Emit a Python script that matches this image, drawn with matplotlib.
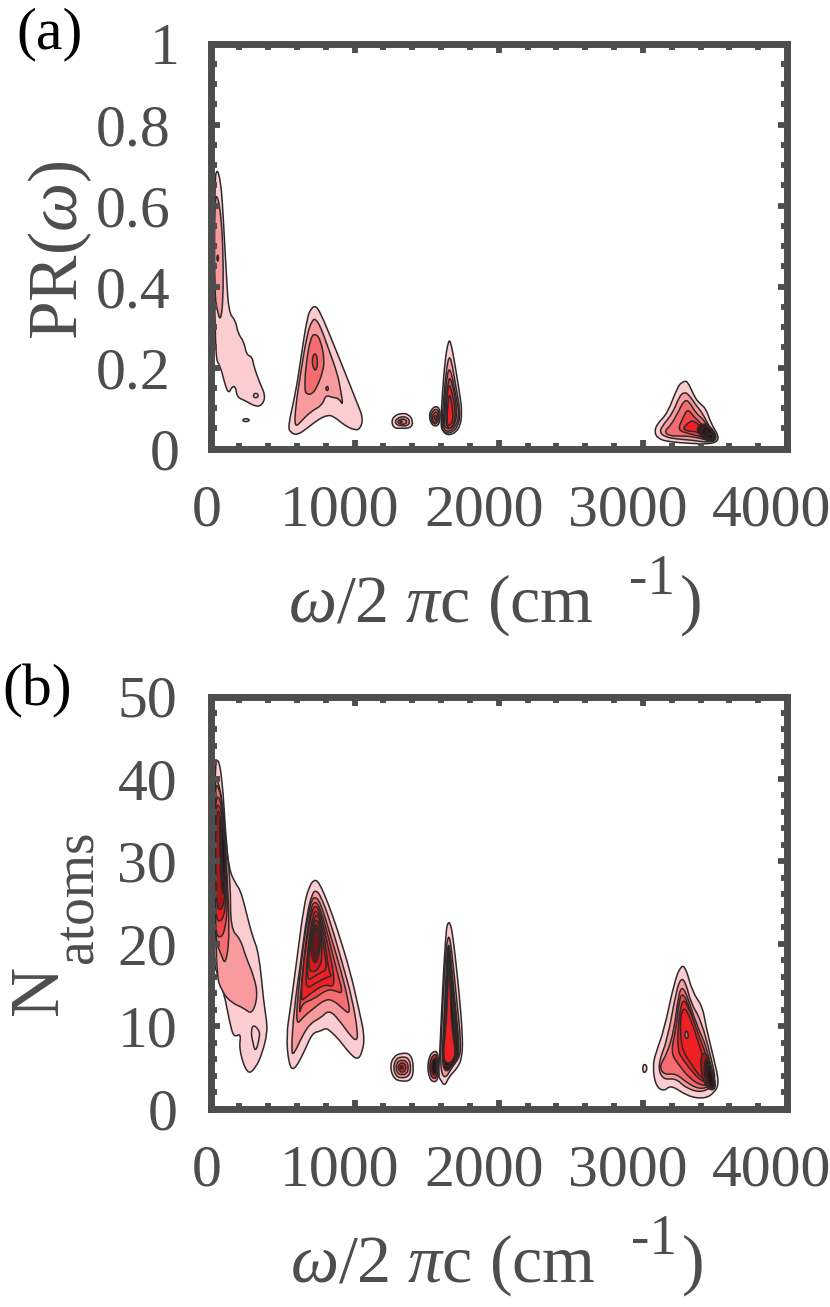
# Two panels of filled contours, PR and N_atoms against frequency
import matplotlib
matplotlib.use("Agg")
import matplotlib.pyplot as plt
from matplotlib.path import Path
from matplotlib.patches import PathPatch
from matplotlib.ticker import MultipleLocator
from matplotlib.transforms import ScaledTranslation

plt.rcParams['font.family'] = ['Liberation Serif', 'DejaVu Serif']
plt.rcParams['mathtext.fontset'] = 'custom'
plt.rcParams['mathtext.rm'] = 'Liberation Serif'
plt.rcParams['mathtext.it'] = 'Liberation Serif:italic'

# contour outlines: one inner list per level, outer level first
# panel (a), omega in cm-1 and PR
a1_w = [[28,46,70,83,97,111,127,174,190,232,250,289,301,343,382,359,312,243,185,174,150,127,104,70,28],
        [28,51,74,88,88,70,46,28],
        [42,51,56,51]]
a1_v = [[.663,.692,.659,.605,.515,.424,.334,.317,.284,.264,.231,.227,.202,.161,.130,.107,.103,.118,.126,.153,.153,.136,.153,.202,.227],
        [.622,.622,.572,.482,.367,.313,.342,.383],
        [.470,.480,.470,.460]]
a1b_w = [[296,315,336,320,301], [218,243,278,243]]
a1b_v = [[.132,.138,.131,.125,.126], [.070,.075,.070,.065]]

a2_w = [[537,590,625,671,699,729,764,833,926,972,1019,1060,1037,995,926,857,810,741,671,602,556],
        [583,590,625,671,706,729,764,822,880,903,921,891,845,799,776,695,637],
        [653,660,695,729,764,792,776,741,706,667],
        [701,725,745,736,718]]
a2_v = [[.054,.136,.218,.325,.346,.353,.334,.276,.194,.153,.111,.074,.047,.046,.058,.079,.083,.070,.050,.033,.039],
        [.050,.103,.186,.284,.317,.320,.301,.243,.186,.144,.105,.124,.126,.132,.107,.091,.070],
        [.144,.202,.276,.284,.268,.218,.186,.153,.134,.134],
        [.218,.239,.218,.194,.194]]
a2b_w = [[797,810,820,810]]
a2b_v = [[.148,.155,.148,.141]]

a3_w = [[1255,1273,1320,1377,1407,1389,1320,1273],
        [1278,1295,1325,1365,1385,1368,1325,1295],
        [1298,1310,1328,1350,1365,1350,1328,1310],
        [1312,1322,1332,1322]]
a3_v = [[.066,.080,.087,.085,.066,.050,.050,.050],
        [.066,.074,.079,.077,.066,.056,.056,.058],
        [.066,.071,.073,.072,.066,.060,.060,.061],
        [.066,.069,.066,.063]]

a4_w = [[1516,1530,1560,1590,1595,1580,1535],
        [1525,1540,1562,1585,1585,1570,1540],
        [1535,1550,1565,1580,1580,1562,1545],
        [1548,1560,1572,1572,1558]]
a4_v = [[.080,.095,.105,.100,.075,.055,.057],
        [.080,.091,.098,.092,.075,.060,.062],
        [.078,.087,.091,.085,.073,.065,.066],
        [.077,.083,.080,.072,.070]]

a5_w = [[1597,1609,1627,1651,1667,1695,1725,1748,1725,1655,1609],
        [1604,1620,1639,1655,1672,1702,1736,1713,1655,1616],
        [1614,1628,1644,1658,1678,1708,1727,1702,1655,1625],
        [1621,1635,1651,1660,1685,1712,1695,1655,1630],
        [1632,1639,1655,1672,1702,1690,1655],
        [1639,1648,1660,1678,1685,1655]]
a5_v = [[.062,.136,.218,.267,.264,.210,.144,.087,.046,.031,.042],
        [.054,.136,.202,.227,.218,.153,.087,.050,.036,.042],
        [.054,.136,.185,.198,.177,.120,.083,.054,.041,.045],
        [.058,.130,.165,.177,.150,.090,.058,.047,.052],
        [.062,.128,.161,.144,.095,.058,.047],
        [.062,.120,.136,.103,.070,.054]]

a6_w = [[3079,3102,3171,3241,3276,3310,3357,3391,3438,3472,3530,3507,3426,3310,3171,3102],
        [3114,3148,3206,3252,3287,3322,3368,3414,3461,3507,3461,3333,3241,3148],
        [3148,3195,3241,3287,3322,3368,3426,3484,3484,3357,3264,3183],
        [3241,3276,3310,3352,3403,3461,3472,3368,3310],
        [3276,3310,3345,3391,3461,3461,3380,3310],
        [3368,3403,3461,3519,3484,3414],
        [3400,3420,3470,3510,3480,3430],
        [3430,3450,3480,3505,3480,3445],
        [3445,3465,3495,3475,3455]]
a6_v = [[.042,.062,.087,.153,.165,.167,.128,.112,.099,.062,.029,.014,.011,.013,.017,.025],
        [.042,.062,.087,.128,.140,.132,.107,.087,.054,.025,.014,.021,.023,.029],
        [.042,.058,.087,.120,.116,.087,.070,.037,.017,.029,.031,.031],
        [.046,.074,.099,.079,.062,.037,.021,.033,.037],
        [.050,.062,.070,.058,.037,.021,.042,.042],
        [.046,.062,.058,.029,.014,.025],
        [.040,.055,.052,.027,.017,.028],
        [.036,.048,.045,.026,.019,.027],
        [.033,.040,.026,.021,.027]]

# panel (b), omega in cm-1 and number of atoms
b1_w = [[28,51,81,104,127,174,208,243,289,336,370,389,394,359,312,255,197,213,162,134,93,46,23],
        [28,46,81,104,139,139,208,243,301,329,289,232,150,81,35],
        [28,58,88,111,134,104,70,28],
        [28,70,97,120,104,70,28],
        [28,74,97,111,81,28],
        [35,70,104,104,70,35],
        [58,81,111,97,74],
        [74,97,107,88,74]]
b1_v = [[41.3,42.7,40.1,33.6,29.1,27.3,26.5,24.2,21.0,18.9,12.8,10.8,9.2,6.7,4.9,4.1,7.2,9.2,8.6,10.4,14.1,16.5,17.5],
        [39.7,40.1,37.6,32.8,27.5,21.8,20.6,18.5,16.1,13.7,11.4,12.2,12.8,14.1,16.5],
        [39.3,39.1,36.4,29.9,21.0,17.3,18.9,20.6],
        [37.8,37.8,33.6,25.0,21.8,20.6,21.4],
        [36.8,36.8,32.0,25.0,22.6,23.0],
        [36.2,36.0,30.3,25.5,23.8,25.0],
        [35.2,35.6,28.7,25.9,26.3],
        [35.6,33.2,27.9,27.1,31.1]]
b1b_w = [[282,296,336,343,312,289]]
b1b_v = [[9.4,10.2,9.6,8.8,6.7,8.4]]

b2_w = [[525,556,602,648,683,718,752,810,880,972,1030,1070,1053,1019,961,891,833,799,764,706,648,579,544],
        [560,579,625,671,706,729,764,833,914,984,1023,1014,972,891,822,764,694,636,579],
        [590,613,648,694,722,764,833,903,954,968,914,856,799,718,648],
        [613,630,660,699,729,764,822,880,921,868,810,718,636],
        [630,636,671,706,734,764,810,856,856,799,718,648],
        [660,667,690,713,736,764,799,822,845,799,718],
        [671,676,699,722,741,764,787,810,764,706],
        [676,690,713,736,764,776,764,718],
        [694,706,734,759,764,729],
        [706,718,736,757,752,729]]
b2_v = [[8.8,12.4,18.5,24.6,26.9,27.8,27.5,25.2,21.8,16.5,12.0,8.8,6.8,5.9,6.8,8.4,9.4,9.8,9.4,9.2,6.8,4.6,5.3],
        [6.8,12.0,17.7,23.8,26.1,26.5,25.9,22.6,17.7,13.3,9.2,8.2,8.8,10.8,12.0,11.0,10.4,8.8,6.6],
        [10.0,14.9,20.6,25.0,25.8,25.0,21.0,16.9,13.3,11.4,12.2,13.1,13.3,12.2,11.2],
        [11.2,14.9,20.2,24.6,25.2,24.2,20.6,16.5,13.9,14.3,14.5,13.3,12.8],
        [13.1,16.1,21.0,24.2,24.7,23.6,20.2,16.5,14.7,15.1,14.3,13.3],
        [14.5,17.7,21.4,23.6,24.1,23.0,19.8,16.5,16.1,15.9,15.1],
        [15.5,18.5,21.8,23.2,23.6,22.4,19.4,16.9,16.5,15.9],
        [16.9,19.8,22.4,23.1,21.8,18.9,17.3,16.5],
        [18.7,21.6,22.6,21.2,19.4,17.3],
        [19.8,21.6,22.0,20.8,19.4,18.3]]

b3_w = [[1245,1269,1320,1389,1412,1394,1320,1269],
        [1268,1285,1320,1375,1392,1378,1320,1285],
        [1285,1298,1322,1360,1375,1362,1322,1298],
        [1300,1310,1325,1348,1358,1348,1325,1310],
        [1312,1325,1340,1325],
        [1318,1327,1334,1327]]
b3_v = [[5.1,6.3,6.75,6.7,5.0,3.4,3.3,3.7],
        [5.0,6.0,6.3,6.2,5.0,3.9,3.7,4.0],
        [5.0,5.7,5.9,5.8,5.0,4.2,4.1,4.3],
        [5.0,5.4,5.6,5.5,5.0,4.5,4.4,4.6],
        [5.0,5.3,5.0,4.7],
        [5.0,5.15,5.0,4.85]]

b4_w = [[1505,1518,1540,1578,1582,1578,1540,1518],
        [1518,1528,1545,1572,1576,1572,1545,1528],
        [1530,1538,1550,1566,1570,1566,1550,1538]]
b4_v = [[5.0,6.3,6.9,7.0,5.0,3.4,3.2,3.8],
        [5.0,6.0,6.5,6.6,5.0,3.8,3.6,4.1],
        [5.0,5.7,6.1,6.2,5.0,4.2,4.0,4.4]]

b5_w = [[1581,1593,1609,1632,1644,1667,1690,1725,1748,1748,1713,1655,1625,1597],
        [1593,1604,1625,1644,1662,1685,1713,1736,1732,1678,1625],
        [1605,1620,1640,1650,1662,1690,1720,1725,1690,1635],
        [1612,1630,1645,1652,1660,1685,1712,1712,1680,1640],
        [1620,1635,1650,1660,1680,1700,1690,1650],
        [1610,1635,1648,1655,1662,1672,1700,1690,1650]]
b5_v = [[3.9,7.6,14.1,21.0,22.6,22.5,19.8,14.1,9.2,6.3,4.9,3.9,2.7,3.5],
        [4.9,10.0,17.3,20.8,20.8,17.3,12.4,8.4,6.3,5.1,3.5],
        [5.5,11.0,18.5,20.0,19.5,14.0,9.0,6.5,5.5,4.3],
        [6.0,12.0,18.0,19.5,18.5,13.0,8.5,6.5,5.8,4.9],
        [6.5,14.0,19.0,18.0,13.0,8.0,6.0,5.3],
        [6.0,10.0,15.0,19.5,15.0,10.0,7.0,6.0,5.4]]

b6_w = [[3067,3090,3148,3217,3264,3298,3345,3414,3437,3495,3530,3495,3426,3310,3194,3148,3090],
        [3102,3171,3229,3264,3298,3333,3403,3484,3507,3414,3298,3229,3136],
        [3113,3171,3217,3245,3271,3310,3368,3449,3495,3414,3322,3229,3148],
        [3194,3229,3252,3275,3322,3368,3437,3484,3414,3322,3241],
        [3241,3245,3264,3287,3333,3391,3460,3472,3403,3322,3264],
        [3264,3259,3287,3333,3379,3437,3460,3403,3333,3287],
        [3391,3437,3507,3495,3426],
        [3420,3445,3505,3490,3440],
        [3440,3455,3500,3488,3450]]
b6_v = [[5.1,6.8,9.6,15.3,17.4,17.1,14.1,12.4,10.0,5.9,3.1,1.9,1.2,1.5,2.9,2.1,2.7],
        [5.3,8.4,14.1,15.9,15.3,12.8,10.8,5.5,3.1,1.9,2.5,3.7,3.5],
        [5.1,6.8,9.6,13.6,14.9,13.6,10.4,7.2,3.1,2.3,2.9,4.3,4.1],
        [6.8,9.6,13.2,14.1,12.4,9.6,6.3,3.1,2.7,3.7,5.5],
        [7.2,10.0,12.6,13.3,11.6,8.8,5.5,3.3,3.3,4.9,6.3],
        [8.0,11.2,12.4,10.8,8.4,5.1,3.5,3.7,5.5,6.7],
        [5.9,7.2,3.3,2.1,2.7],
        [5.0,6.6,3.3,2.2,2.9],
        [4.5,5.8,3.2,2.4,3.0]]
b6b_w = [[2997,3012,3032,3018,3003], [3287,3303,3319,3303]]
b6b_v = [[5.0,5.5,5.0,4.4,4.4], [9.0,9.6,8.8,8.4]]

x_ticks = [0, 1000, 2000, 3000, 4000]
x_labels = ['0', '1000', '2000', '3000', '4000']
a_ticks = [0, 0.2, 0.4, 0.6, 0.8, 1]
a_labels = ['0', '0.2', '0.4', '0.6', '0.8', '1']
b_ticks = [0, 10, 20, 30, 40, 50]
b_labels = ['0', '10', '20', '30', '40', '50']

W, H = 830, 1307
GREY = '#4d4d4d'
LINE = '#2e2a2a'
FS = 43
colors = ['#fbcdd1', '#f89a9e', '#f56d70', '#f2454a', '#ee2024',
          '#d01a20', '#a81618', '#7c1214', '#4a1214', '#2a1417']


def smooth_patch(w, v, color):
    # closed outline, corners rounded with quadratic pieces
    n = len(w)
    mid = [((w[i] + w[(i + 1) % n]) / 2, (v[i] + v[(i + 1) % n]) / 2) for i in range(n)]
    verts = [mid[-1]]
    codes = [Path.MOVETO]
    for i in range(n):
        verts += [(w[i], v[i]), mid[i]]
        codes += [Path.CURVE3, Path.CURVE3]
    return PathPatch(Path(verts, codes), facecolor=color, edgecolor=LINE, lw=1.1, joinstyle='round')


def draw_blob(ax, w, v, cols=None):
    for i in range(len(w)):
        c = colors[cols[i]] if cols else colors[i]
        ax.add_patch(smooth_patch(w[i], v[i], c))


def make_axes(fig, x0, x1, y0, y1, ypad):
    ax = fig.add_axes([x0 / W, 1 - y1 / H, (x1 - x0) / W, (y1 - y0) / H])
    for s in ax.spines.values():
        s.set_linewidth(5)
        s.set_color(GREY)
        s.set_zorder(6)
    ax.tick_params(which='both', direction='in', top=True, right=True, color=GREY, labelcolor=GREY, labelsize=FS)
    ax.tick_params(which='major', length=6.2, width=4.2)
    ax.tick_params(which='minor', length=4.3, width=4.2)
    ax.tick_params(axis='x', pad=26)
    ax.tick_params(axis='y', pad=ypad)
    ax.set_xlim(0, 4000)
    ax.set_xticks(x_ticks)
    ax.set_xticklabels(x_labels)
    ax.xaxis.set_minor_locator(MultipleLocator(200))
    for lab in ax.get_xticklabels():
        dx = -4 if lab.get_text() == '0' else -15
        lab.set_transform(lab.get_transform() + ScaledTranslation(dx / 100, 0, fig.dpi_scale_trans))
    return ax


def put(fig, x, y, s, **kw):
    kw.setdefault('color', GREY)
    kw.setdefault('fontsize', FS)
    fig.text(x / W, 1 - y / H, s, **kw)


def x_title(fig, y, shift=0):
    put(fig, 288 + shift, y, r'$\omega$/2 $\pi$c (cm', ha='left', va='baseline', fontsize=49)
    put(fig, 629 + shift, y - 28, '-1', ha='left', va='baseline', fontsize=40)
    put(fig, 680 + shift, y, ')', ha='left', va='baseline', fontsize=49)


fig = plt.figure(figsize=(W / 100, H / 100), dpi=100)

ax1 = make_axes(fig, 210.5, 787, 43.5, 448.5, 29)
ax1.set_ylim(0, 1)
ax1.set_yticks(a_ticks)
ax1.set_yticklabels(a_labels)
ax1.yaxis.set_minor_locator(MultipleLocator(0.05))
for lab in ax1.get_yticklabels():
    if lab.get_text() in ('0', '1'):
        # the single digits sit further right in this panel
        lab.set_transform(lab.get_transform() + ScaledTranslation(0.09, 0, fig.dpi_scale_trans))
draw_blob(ax1, a1_w, a1_v)
draw_blob(ax1, a1b_w, a1b_v, [0, 0])
draw_blob(ax1, a2_w, a2_v)
draw_blob(ax1, a2b_w, a2b_v, [2])
draw_blob(ax1, a3_w, a3_v)
draw_blob(ax1, a4_w, a4_v, [1, 2, 3, 5])
draw_blob(ax1, a5_w, a5_v, [0, 1, 2, 3, 4, 4])
draw_blob(ax1, a6_w, a6_v, [0, 1, 2, 3, 4, 8, 9, 9, 9])

ax2 = make_axes(fig, 210.5, 787, 696.5, 1108.7, 24)
ax2.set_ylim(0, 50)
ax2.set_yticks(b_ticks)
ax2.set_yticklabels(b_labels)
ax2.yaxis.set_minor_locator(MultipleLocator(2))
draw_blob(ax2, b1_w, b1_v, [0, 1, 2, 3, 4, 6, 8, 9])
draw_blob(ax2, b1b_w, b1b_v, [0])
draw_blob(ax2, b2_w, b2_v, [0, 1, 2, 3, 4, 4, 4, 5, 7, 7])
draw_blob(ax2, b3_w, b3_v, [0, 1, 2, 4, 5, 9])
draw_blob(ax2, b4_w, b4_v, [1, 4, 9])
draw_blob(ax2, b5_w, b5_v, [0, 1, 8, 9, 9, 4])
draw_blob(ax2, b6_w, b6_v, [0, 1, 2, 3, 4, 4, 6, 8, 9])
draw_blob(ax2, b6b_w, b6b_v, [0, 2])

x_title(fig, 622)
x_title(fig, 1282, 2)

put(fig, 16, 48, '(a)', color='black', ha='left', va='baseline')
put(fig, 2, 705, '(b)', color='black', ha='left', va='baseline')
put(fig, 60, 250, r'PR($\omega$)', rotation=90, ha='center', va='center', fontsize=50)
put(fig, 40, 990, 'N', rotation=90, ha='center', va='center', fontsize=50)
put(fig, 78, 897, 'atoms', rotation=90, ha='center', va='center', fontsize=40)

fig.savefig('out.png', dpi=100)
